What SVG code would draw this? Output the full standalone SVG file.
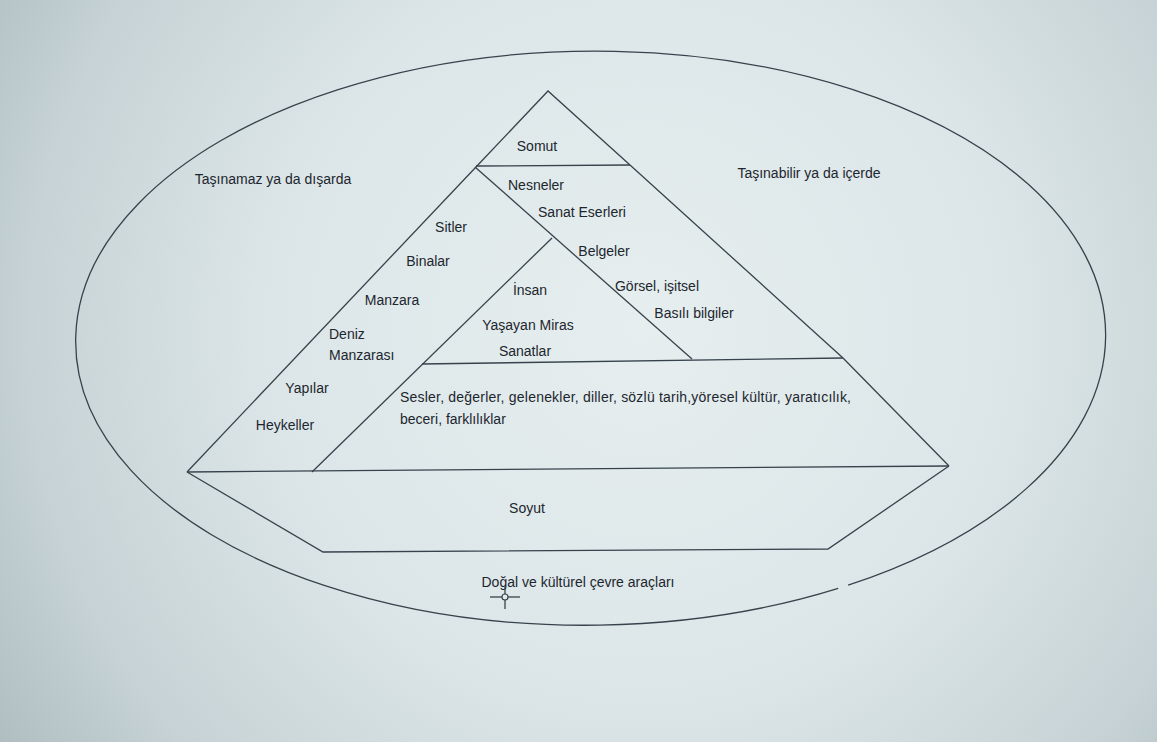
<svg xmlns="http://www.w3.org/2000/svg" width="1157" height="742" viewBox="0 0 1157 742">
  <defs>
    <radialGradient id="bg" cx="640" cy="330" r="820" gradientUnits="userSpaceOnUse">
      <stop offset="0" stop-color="#e6eeef"/>
      <stop offset="0.45" stop-color="#dce6e8"/>
      <stop offset="0.75" stop-color="#c6d2d5"/>
      <stop offset="1" stop-color="#a7b6ba"/>
    </radialGradient>
    <style>
      .ln { fill: none; stroke: #36434d; stroke-width: 1.3; stroke-linejoin: miter; }
      .tx { font-family: "Liberation Sans", Arial, sans-serif; font-size: 14px; fill: #1d262e; }
      .c { text-anchor: middle; }
    </style>
  </defs>

  <rect x="0" y="0" width="1157" height="742" fill="url(#bg)"/>

  <g id="connectors">
    <!-- outer ellipse (small gap lower right) -->
    <path class="ln" d="M 846 587.5 A 515 287 0 1 0 836 590.6" transform="rotate(-0.5 585 340)"/>
    <!-- outer triangle -->
    <polyline class="ln" points="187,472 476,167 548,91 630,165 843,358 949,466"/>
    <!-- Somut separator -->
    <line class="ln" x1="476" y1="166" x2="630" y2="165"/>
    <!-- diagonal (movable) -->
    <line class="ln" x1="475" y1="167" x2="692" y2="359"/>
    <!-- inner triangle edge -->
    <line class="ln" x1="552" y1="238" x2="312" y2="472"/>
    <!-- horizontal separator -->
    <line class="ln" x1="422" y1="364" x2="843" y2="358"/>
    <!-- base -->
    <line class="ln" x1="187" y1="472" x2="949" y2="466"/>
    <!-- Soyut trapezoid -->
    <polyline class="ln" points="187,472 323,552 828,549 949,466"/>
  </g>

  <g id="node-somut">
    <text class="tx c" x="537" y="151">Somut</text>
  </g>

  <g id="node-tasinamaz">
    <text class="tx c" x="273" y="184">Taşınamaz ya da dışarda</text>
  </g>

  <g id="node-tasinabilir">
    <text class="tx c" x="809" y="178">Taşınabilir ya da içerde</text>
  </g>

  <g id="node-nesneler">
    <text class="tx c" x="536" y="190">Nesneler</text>
    <text class="tx c" x="582" y="217">Sanat Eserleri</text>
    <text class="tx c" x="604" y="256">Belgeler</text>
    <text class="tx c" x="657" y="291">Görsel, işitsel</text>
    <text class="tx c" x="694" y="318">Basılı bilgiler</text>
  </g>

  <g id="node-sitler">
    <text class="tx c" x="451" y="232">Sitler</text>
    <text class="tx c" x="428" y="266">Binalar</text>
    <text class="tx c" x="392" y="305">Manzara</text>
    <text class="tx" x="329" y="339">Deniz</text>
    <text class="tx" x="329" y="360">Manzarası</text>
    <text class="tx c" x="307" y="393">Yapılar</text>
    <text class="tx c" x="285" y="430">Heykeller</text>
  </g>

  <g id="node-insan">
    <text class="tx c" x="530" y="295">İnsan</text>
    <text class="tx c" x="528" y="330">Yaşayan Miras</text>
    <text class="tx c" x="525" y="356">Sanatlar</text>
  </g>

  <g id="node-sesler">
    <text class="tx" x="400" y="402" textLength="451" lengthAdjust="spacing">Sesler, değerler, gelenekler, diller, sözlü tarih,yöresel kültür, yaratıcılık,</text>
    <text class="tx" x="400" y="424">beceri, farklılıklar</text>
  </g>

  <g id="node-soyut">
    <text class="tx c" x="527" y="513">Soyut</text>
  </g>

  <g id="node-cevre">
    <text class="tx c" x="578" y="587">Doğal ve kültürel çevre araçları</text>
  </g>

  <g id="cursor">
    <line class="ln" x1="490" y1="597" x2="520" y2="597"/>
    <line class="ln" x1="505" y1="586" x2="505" y2="609"/>
    <circle cx="505" cy="597" r="3" fill="#e4ecee" stroke="#36434d" stroke-width="1.2"/>
  </g>
</svg>
